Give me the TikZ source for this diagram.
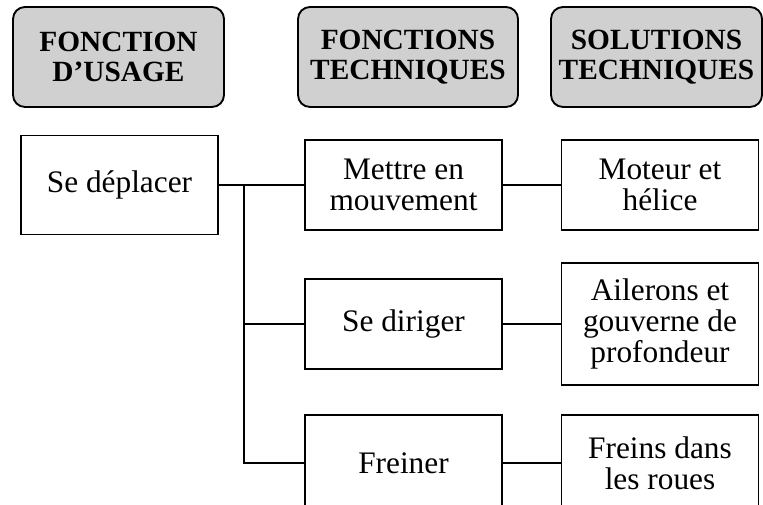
\documentclass[tikz,border=0pt]{standalone}
\usepackage{fontspec}
\setmainfont{Liberation Serif}
\usepackage{tikz}

\tikzset{
  headbox/.style={draw,line width=1.4pt,fill={rgb,255:red,208;green,208;blue,208},rounded corners=9pt,
    align=center,inner sep=0pt,minimum height=75pt,font=\fontsize{22}{22.5}\selectfont\bfseries},
  fbox/.style={draw,line width=0.9pt,align=center,inner sep=0pt,minimum width=147.75pt,
    font=\fontsize{23.5}{23.5}\selectfont},
  link/.style={line width=0.9pt}
}

\begin{document}
\begin{tikzpicture}[x=0.75pt,y=0.75pt,yscale=-1,xscale=1]
\useasboundingbox (0,0) rectangle (763,505);
\clip (0,0) rectangle (763,505);
% column titles
\node (usage) at (118.5,57) [headbox,minimum width=158.25pt] {FONCTION\\D’USAGE};
\node (ftech) at (408,57) [headbox,minimum width=165pt] {FONCTIONS\\TECHNIQUES};
\node (stech) at (656.5,57) [headbox,minimum width=158.25pt] {SOLUTIONS\\TECHNIQUES};
% boxes
\node (deplacer) at (119.5,185) [fbox,minimum height=74.25pt] {Se déplacer};
\node (mettre) at (403.5,185) [fbox,minimum height=67.5pt] {Mettre en\\mouvement};
\node (moteur) at (660,185) [fbox,minimum height=67.5pt] {Moteur et\\hélice};
\node (diriger) at (403.5,324) [fbox,minimum height=67.5pt] {Se diriger};
\node (ailerons) at (660,324) [fbox,minimum height=91.5pt] {Ailerons et\\gouverne de\\profondeur};
\node (freiner) at (403.5,463) [fbox,minimum height=72pt] {Freiner};
\node (freins) at (660,463) [fbox,minimum height=72pt] {Freins dans\\les roues};
% links
\coordinate (jn) at (244,185);
\draw [link] (deplacer) -- (mettre);
\draw [link] (jn) |- (diriger.west);
\draw [link] (jn) |- (freiner.west);
\draw [link] (mettre) -- (moteur);
\draw [link] (diriger) -- (ailerons);
\draw [link] (freiner) -- (freins);
\end{tikzpicture}
\end{document}
